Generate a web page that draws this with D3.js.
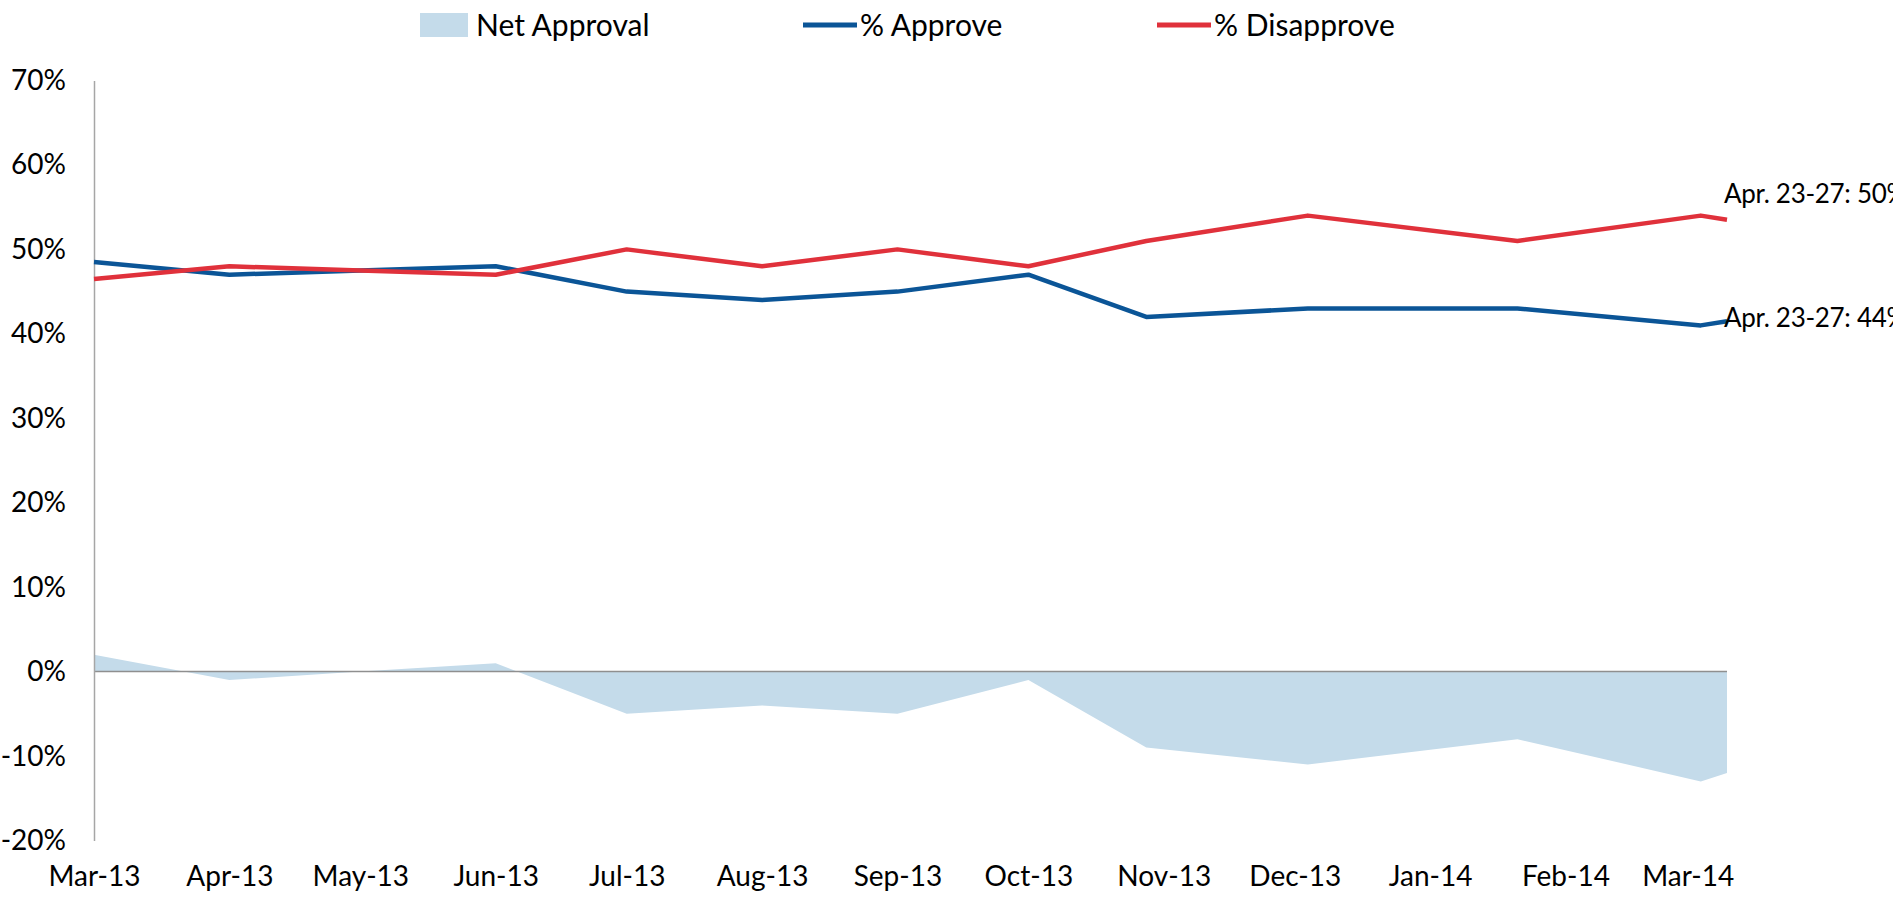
<!DOCTYPE html>
<html>
<head>
<meta charset="utf-8">
<script src="https://cdn.jsdelivr.net/npm/d3@7"></script>
<style>
  body { margin: 0; background: #fff; }
  svg { display: block; font-family: Lato, "Open Sans", sans-serif; }
</style>
</head>
<body>
<svg id="chart" width="1893" height="908"></svg>
<script>
// poll dates
const pollDates = [
  "2013-03-01", "2013-04-01", "2013-05-01", "2013-06-01", "2013-07-01",
  "2013-08-01", "2013-09-01", "2013-10-01", "2013-10-28", "2013-12-04",
  "2014-01-21", "2014-03-04", "2014-03-10"
]
const approve = [48.5, 47, 47.5, 48, 45, 44, 45, 47, 42, 43, 43, 41, 41.5]
const disapprove = [46.5, 48, 47.5, 47, 50, 48, 50, 48, 51, 54, 51, 54, 53.5]
const netApproval = [2, -1, 0, 1, -5, -4, -5, -1, -9, -11, -8, -13, -12]

const tickDates = [
  "2013-03-01", "2013-04-01", "2013-05-01", "2013-06-01", "2013-07-01",
  "2013-08-01", "2013-09-01", "2013-10-01", "2013-11-01", "2013-12-01",
  "2014-01-01", "2014-02-01", "2014-03-01"
]
const tickLabels = [
  "Mar-13", "Apr-13", "May-13", "Jun-13", "Jul-13", "Aug-13", "Sep-13",
  "Oct-13", "Nov-13", "Dec-13", "Jan-14", "Feb-14", "Mar-14"
]
const yTicks = [-20, -10, 0, 10, 20, 30, 40, 50, 60, 70]

const legendItems = ["Net Approval", "% Approve", "% Disapprove"]
const endLabels = ["Apr. 23-27: 44%", "Apr. 23-27: 50%"]

const BLUE = "#0b5597"
const RED = "#e0313b"
const AREA = "#c4dbea"
const GREY = "#8f8f8f"
const FONT_SIZE = 28

const parse = d3.timeParse("%Y-%m-%d")
const rows = pollDates.map((d, i) => ({
  date: parse(d),
  approve: approve[i],
  disapprove: disapprove[i],
  net: netApproval[i]
}))

const svg = d3.select("#chart")

const x = d3.scaleTime()
  .domain([parse("2013-03-01"), parse("2014-03-10")])
  .range([94, 1727])
const y = d3.scaleLinear()
  .domain([-20, 70])
  .range([840.5, 80.5])

// net approval area, drawn against the zero line
const area = d3.area()
  .x((d) => x(d.date))
  .y0(y(0))
  .y1((d) => y(d.net))
svg.append("path")
  .datum(rows)
  .attr("fill", AREA)
  .attr("d", area)

// zero line
svg.append("line")
  .attr("x1", x.range()[0])
  .attr("x2", x.range()[1])
  .attr("y1", y(0))
  .attr("y2", y(0))
  .attr("stroke", GREY)
  .attr("stroke-width", 1.5)

// y axis
const yAxis = svg.append("g")
  .attr("transform", `translate(${x.range()[0]},0)`)
  .call(d3.axisLeft(y).tickValues(yTicks).tickSize(0).tickPadding(28).tickFormat((d) => `${d}%`))
yAxis.select(".domain").attr("stroke", "#a6a6a6").attr("stroke-width", 1.5)
yAxis.selectAll("text")
  .attr("font-size", FONT_SIZE)
  .attr("font-family", "Lato, sans-serif")
  .attr("fill", "#000")

// x axis labels at the bottom, no line
const xAxis = svg.append("g")
  .attr("transform", `translate(0,${y(-20)})`)
  .call(d3.axisBottom(x)
    .tickValues(tickDates.map(parse))
    .tickSize(0)
    .tickPadding(26)
    .tickFormat((d, i) => tickLabels[i]))
xAxis.select(".domain").remove()
xAxis.selectAll("text")
  .attr("font-size", FONT_SIZE)
  .attr("font-family", "Lato, sans-serif")
  .attr("fill", "#000")

// approve / disapprove lines
const series = [
  { key: "approve", color: BLUE },
  { key: "disapprove", color: RED }
]
series.forEach((s) => {
  const line = d3.line()
    .x((d) => x(d.date))
    .y((d) => y(d[s.key]))
  svg.append("path")
    .datum(rows)
    .attr("fill", "none")
    .attr("stroke", s.color)
    .attr("stroke-width", 4.5)
    .attr("stroke-linejoin", "round")
    .attr("d", line)
})

// end-of-line labels (the reference lets them run off the right edge)
const last = rows[rows.length - 1]
svg.append("text")
  .attr("x", x(last.date) - 3)
  .attr("y", 327)
  .attr("font-size", 26)
  .attr("letter-spacing", -0.3)
  .text(endLabels[0])
svg.append("text")
  .attr("x", x(last.date) - 3)
  .attr("y", 203)
  .attr("font-size", 26)
  .attr("letter-spacing", -0.3)
  .text(endLabels[1])

// legend
const legend = svg.append("g").attr("transform", "translate(0,25)")
const legendX = [420, 803, 1157]
legendItems.forEach((name, i) => {
  const g = legend.append("g").attr("transform", `translate(${legendX[i]},0)`)
  if (i === 0) {
    g.append("rect")
      .attr("x", 0).attr("y", -12)
      .attr("width", 48).attr("height", 24)
      .attr("fill", AREA)
  } else {
    g.append("line")
      .attr("x1", 0).attr("x2", 54)
      .attr("y1", 0).attr("y2", 0)
      .attr("stroke", series[i - 1].color)
      .attr("stroke-width", 5)
  }
  g.append("text")
    .attr("x", i === 0 ? 56 : 57)
    .attr("y", 0)
    .attr("dy", "0.35em")
    .attr("font-size", 30)
    .text(name)
})
</script>
</body>
</html>
